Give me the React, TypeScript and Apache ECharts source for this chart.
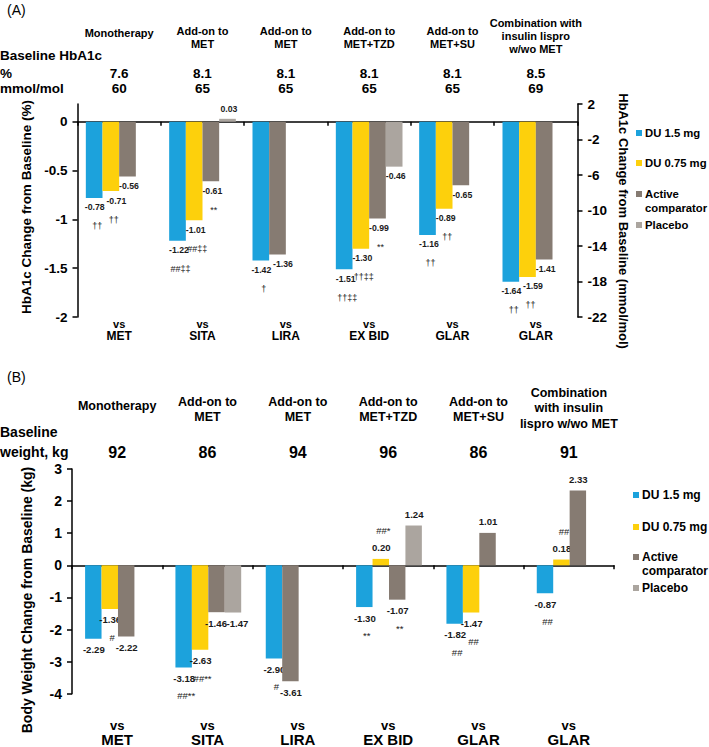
import React, { useEffect, useRef } from 'react';
import * as echarts from 'echarts';

// ---------- data ----------
const comparators = ['MET', 'SITA', 'LIRA', 'EX BID', 'GLAR', 'GLAR'];
const headerA = [['Monotherapy'], ['Add-on to', 'MET'], ['Add-on to', 'MET'], ['Add-on to', 'MET+TZD'], ['Add-on to', 'MET+SU'], ['Combination with', 'insulin lispro', 'w/wo MET']];
const headerB = [['Monotherapy'], ['Add-on to', 'MET'], ['Add-on to', 'MET'], ['Add-on to', 'MET+TZD'], ['Add-on to', 'MET+SU'], ['Combination', 'with insulin', 'lispro w/wo MET']];
const baselinePct = ['7.6', '8.1', '8.1', '8.1', '8.1', '8.5'];
const baselineMmol = ['60', '65', '65', '65', '65', '69'];
const baselineWeight = ['92', '86', '94', '96', '86', '91'];

const seriesNames = ['DU 1.5 mg', 'DU 0.75 mg', 'Active comparator', 'Placebo'];
const seriesColors = ['#1CA2DC', '#FDD00C', '#867B72', '#ABA59F'];

// Panel A: HbA1c change (%)
const hbDu15 = [-0.78, -1.22, -1.42, -1.51, -1.16, -1.64];
const hbDu075 = [-0.71, -1.01, null, -1.30, -0.89, -1.59];
const hbActive = [-0.56, -0.61, -1.36, -0.99, -0.65, -1.41];
const hbPlacebo = [null, 0.03, null, -0.46, null, null];
const hbSigDu15 = ['††', '##‡‡', '†', '††‡‡', '††', '††'];
const hbSigDu075 = ['††', '##‡‡', '', '††‡‡', '††', '††'];
const hbSigActive = ['', '**', '', '**', '', ''];
const hbSigPlacebo = ['', '', '', '', '', ''];

// Panel B: body weight change (kg)
const wtDu15 = [-2.29, -3.18, -2.90, -1.30, -1.82, -0.87];
const wtDu075 = [-1.36, -2.63, null, 0.20, -1.47, 0.18];
const wtActive = [-2.22, -1.46, -3.61, -1.07, 1.01, 2.33];
const wtPlacebo = [null, -1.47, null, 1.24, null, null];
const wtSigDu15 = ['', '##**', '#', '**', '##', '##'];
const wtSigDu075 = ['#', '##**', '', '##*', '##', '##'];
const wtSigActive = ['', '', '', '**', '', ''];
const wtSigPlacebo = ['', '', '', '', '', ''];

// ---------- layout ----------
const FAMILY = '"Liberation Sans", Arial, Helvetica, sans-serif';
const FONT = FAMILY;
const NARROW = '"Liberation Sans Narrow", "Arial Narrow", "Liberation Sans", Arial, sans-serif';
const GA = { left: 77.5, top: 104, width: 500, height: 213 };
const GB = { left: 72, top: 469, width: 542, height: 228 };

type Cfg = { offsetFrac: number; barFrac: number; labelGap: number; sigGap: number; labelFont: string; sigFont: string; labelDx: number; sigDx: number };

const cfgA: Cfg = { offsetFrac: 0.1, barFrac: 0.2, labelGap: 9.5, sigGap: 19, labelFont: `bold 8.7px ${FONT}`, sigFont: `9px ${FONT}`, labelDx: 1.5, sigDx: 3 };
const cfgB: Cfg = { offsetFrac: 0.145, barFrac: 0.182, labelGap: 11, sigGap: 17.5, labelFont: `bold 9.6px ${FONT}`, sigFont: `9.5px ${FONT}`, labelDx: 0.5, sigDx: 2.5 };

function buildData(all: (number | null)[][], s: number) {
  const out: number[][] = [];
  all[s].forEach((v, g) => {
    if (v === null) return;
    let slot = 0;
    for (let k = 0; k < s; k++) if (all[k][g] !== null) slot++;
    out.push([g, slot, v]);
  });
  return out;
}

function neighbour(all: (number | null)[][], s: number, g: number, step: number) {
  for (let k = s + step; k >= 0 && k < all.length; k += step) {
    const v = all[k][g];
    if (v !== null) return v;
  }
  return null;
}

function makeRender(cfg: Cfg, color: string, sigs: string[], all: (number | null)[][], s: number) {
  return (params: any, api: any) => {
    const g = api.value(0) as number;
    const slot = api.value(1) as number;
    const v = api.value(2) as number;
    const zero = api.coord([g, 0]);
    const end = api.coord([g, v]);
    const band = api.size([1, 0])[0];
    const w = band * cfg.barFrac;
    const x = zero[0] - band / 2 + band * cfg.offsetFrac + slot * w;
    const top = Math.min(zero[1], end[1]);
    const h = Math.abs(zero[1] - end[1]);
    const barCx = x + w / 2;
    // nudge labels apart when a neighbouring bar's label sits at nearly the same height
    let dx = cfg.labelDx;
    const prev = neighbour(all, s, g, -1);
    const next = neighbour(all, s, g, 1);
    if (prev !== null && prev * v > 0 && Math.abs(api.coord([g, prev])[1] - end[1]) < 11) dx += 4;
    if (next !== null && next * v > 0 && Math.abs(api.coord([g, next])[1] - end[1]) < 11) dx -= 1;
    const dir = v < 0 ? 1 : -1;
    const ly = end[1] + dir * cfg.labelGap;
    const sy = ly + dir * cfg.sigGap;
    const children: any[] = [
      { type: 'rect', shape: { x, y: top, width: w, height: h }, style: { fill: color } },
      {
        type: 'text',
        style: { text: v.toFixed(2), x: barCx + dx, y: ly, font: cfg.labelFont, fill: '#1a1a1a', align: 'center', verticalAlign: 'middle' },
      },
    ];
    const sig = sigs[g];
    if (sig) {
      children.push({
        type: 'text',
        style: { text: sig, x: barCx + cfg.sigDx, y: sy, font: cfg.sigFont, fill: '#1a1a1a', align: 'center', verticalAlign: 'middle' },
      });
    }
    return { type: 'group', children };
  };
}

function txt(text: string, x: number, y: number, font: string, align = 'center', rotation = 0) {
  return {
    type: 'text',
    x,
    y,
    rotation,
    style: { text, x: 0, y: 0, font, fill: '#000', align, verticalAlign: 'middle', textAlign: align, textVerticalAlign: 'middle' },
  };
}

export default function App() {
  const ref = useRef<HTMLDivElement>(null);

  useEffect(() => {
    if (!ref.current) return;
    const chart = echarts.init(ref.current, null, { renderer: 'svg' });

    const hbAll = [hbDu15, hbDu075, hbActive, hbPlacebo];
    const hbSigs = [hbSigDu15, hbSigDu075, hbSigActive, hbSigPlacebo];
    const wtAll = [wtDu15, wtDu075, wtActive, wtPlacebo];
    const wtSigs = [wtSigDu15, wtSigDu075, wtSigActive, wtSigPlacebo];

    const series: any[] = [];
    for (let s = 0; s < 4; s++) {
      series.push({
        type: 'custom',
        name: seriesNames[s],
        coordinateSystem: 'cartesian2d',
        xAxisIndex: 0,
        yAxisIndex: 0,
        encode: { x: 0, y: 2 },
        clip: false,
        data: buildData(hbAll, s),
        renderItem: makeRender(cfgA, seriesColors[s], hbSigs[s], hbAll, s),
        z: 1,
      });
    }
    for (let s = 0; s < 4; s++) {
      series.push({
        type: 'custom',
        name: seriesNames[s],
        coordinateSystem: 'cartesian2d',
        xAxisIndex: 2,
        yAxisIndex: 2,
        encode: { x: 0, y: 2 },
        clip: false,
        data: buildData(wtAll, s),
        renderItem: makeRender(cfgB, seriesColors[s], wtSigs[s], wtAll, s),
        z: 1,
      });
    }

    const centerA = (i: number) => GA.left + (i + 0.5) * (GA.width / 6);
    const centerB = (i: number) => GB.left + (i + 0.5) * (GB.width / 6);

    const graphics: any[] = [];
    // Panel A headers
    graphics.push(txt('(A)', 7, 10, `14px ${FONT}`, 'left'));
    const startA: Record<number, number> = { 1: 33, 2: 31, 3: 23 };
    headerA.forEach((lines, i) => {
      lines.forEach((l, k) => graphics.push(txt(l, centerA(i), startA[lines.length] + k * 13, `bold 11px ${FONT}`)));
    });
    graphics.push(txt('Baseline HbA1c', 0, 55, `bold 13.5px ${FONT}`, 'left'));
    graphics.push(txt('%', 0, 73, `bold 13.5px ${FONT}`, 'left'));
    graphics.push(txt('mmol/mol', 0, 88, `bold 13.5px ${FONT}`, 'left'));
    baselinePct.forEach((t, i) => graphics.push(txt(t, centerA(i), 73, `bold 13.5px ${FONT}`)));
    baselineMmol.forEach((t, i) => graphics.push(txt(t, centerA(i), 88, `bold 13.5px ${FONT}`)));
    graphics.push(txt('HbA1c Change from Baseline (%)', 26, 207, `bold 13.5px ${FONT}`, 'center', Math.PI / 2));
    graphics.push(txt('HbA1c Change from Baseline (mmol/mol)', 623, 221, `bold 13px ${FONT}`, 'center', -Math.PI / 2));

    // Panel B headers
    graphics.push(txt('(B)', 7, 377, `14px ${FONT}`, 'left'));
    const startB: Record<number, number> = { 1: 406, 2: 402, 3: 393 };
    headerB.forEach((lines, i) => {
      lines.forEach((l, k) => graphics.push(txt(l, centerB(i), startB[lines.length] + k * 15.3, `bold 12.5px ${FONT}`)));
    });
    graphics.push(txt('Baseline', 0, 432, `bold 14px ${FONT}`, 'left'));
    graphics.push(txt('weight, kg', 0, 452, `bold 14px ${FONT}`, 'left'));
    baselineWeight.forEach((t, i) => graphics.push(txt(t, centerB(i), 452, `bold 16px ${NARROW}`)));
    graphics.push(txt('Body Weight Change from Baseline (kg)', 27, 600, `bold 14px ${FONT}`, 'center', Math.PI / 2));

    // Legends
    const legA = [[133], [163], [194, 208], [225]];
    const legB = [[495], [527], [557, 571], [588]];
    const legLines = [['DU 1.5 mg'], ['DU 0.75 mg'], ['Active', 'comparator'], ['Placebo']];
    legLines.forEach((lines, s) => {
      graphics.push({ type: 'rect', shape: { x: 636, y: legA[s][0] - 3, width: 6, height: 6 }, style: { fill: seriesColors[s] } });
      lines.forEach((l, k) => graphics.push(txt(l, 645, legA[s][k], `bold 11.3px ${FONT}`, 'left')));
      graphics.push({ type: 'rect', shape: { x: 633, y: legB[s][0] - 3, width: 6, height: 6 }, style: { fill: seriesColors[s] } });
      lines.forEach((l, k) => graphics.push(txt(l, 642, legB[s][k], `bold 12px ${FONT}`, 'left')));
    });

    const axisLineStyle = { color: '#000', width: 1.5 };
    const tickStyle = { color: '#000', width: 1.5 };

    chart.setOption({
      animation: false,
      backgroundColor: '#fff',
      grid: [
        { left: GA.left, top: GA.top, width: GA.width, height: GA.height },
        { left: GB.left, top: GB.top, width: GB.width, height: GB.height },
      ],
      xAxis: [
        {
          type: 'category', gridIndex: 0, data: comparators, position: 'bottom',
          axisLine: { show: false, onZero: false }, axisTick: { show: false },
          axisLabel: {
            interval: 0, margin: 1, verticalAlign: 'top',
            formatter: (v: string) => `{a|vs}\n{b|${v}}`,
            rich: {
              a: { fontFamily: FAMILY, fontWeight: 'bold', fontSize: 11, lineHeight: 12, color: '#000' },
              b: { fontFamily: FAMILY, fontWeight: 'bold', fontSize: 12, lineHeight: 12, color: '#000' },
            },
          },
        },
        {
          type: 'category', gridIndex: 0, data: comparators, position: 'bottom',
          axisLine: { show: true, onZero: true, lineStyle: axisLineStyle },
          axisTick: { show: true, interval: 0, length: 4, lineStyle: tickStyle },
          axisLabel: { show: false, interval: 0 },
        },
        {
          type: 'category', gridIndex: 1, data: comparators, position: 'bottom',
          axisLine: { show: false, onZero: false }, axisTick: { show: false },
          axisLabel: {
            interval: 0, margin: 24, verticalAlign: 'top',
            formatter: (v: string) => `{a|vs}\n{b|${v}}`,
            rich: {
              a: { fontFamily: FAMILY, fontWeight: 'bold', fontSize: 13, lineHeight: 14.5, color: '#000' },
              b: { fontFamily: FAMILY, fontWeight: 'bold', fontSize: 15, lineHeight: 14.5, color: '#000' },
            },
          },
        },
        {
          type: 'category', gridIndex: 1, data: comparators, position: 'bottom',
          axisLine: { show: true, onZero: true, lineStyle: axisLineStyle },
          axisTick: { show: true, interval: 0, length: 4, lineStyle: tickStyle },
          axisLabel: { show: false, interval: 0 },
        },
      ],
      yAxis: [
        {
          type: 'value', gridIndex: 0, position: 'left', min: -2, max: 2 / 11, interval: 0.5,
          axisLine: { show: true, lineStyle: axisLineStyle },
          axisTick: { show: true, length: 5, lineStyle: tickStyle },
          axisLabel: { showMaxLabel: false, margin: 10, fontFamily: FAMILY, fontWeight: 'bold', fontSize: 13.5, color: '#000' },
          splitLine: { show: false },
        },
        {
          type: 'value', gridIndex: 0, position: 'right', min: -22, max: 2, interval: 4,
          axisLine: { show: true, lineStyle: axisLineStyle },
          axisTick: { show: true, length: 5, lineStyle: tickStyle },
          axisLabel: { margin: 10, fontFamily: FAMILY, fontWeight: 'bold', fontSize: 13.5, color: '#000' },
          splitLine: { show: false },
        },
        {
          type: 'value', gridIndex: 1, position: 'left', min: -4, max: 3, interval: 1,
          axisLine: { show: true, lineStyle: axisLineStyle },
          axisTick: { show: true, length: 5, lineStyle: tickStyle },
          axisLabel: { margin: 10, fontFamily: FAMILY, fontWeight: 'bold', fontSize: 14, color: '#000' },
          splitLine: { show: false },
        },
      ],
      series,
      graphic: graphics,
    });

    return () => chart.dispose();
  }, []);

  return (
    <div
      ref={ref}
      style={{ position: 'fixed', left: 0, top: 0, width: 709, height: 747, background: '#fff' }}
    />
  );
}
